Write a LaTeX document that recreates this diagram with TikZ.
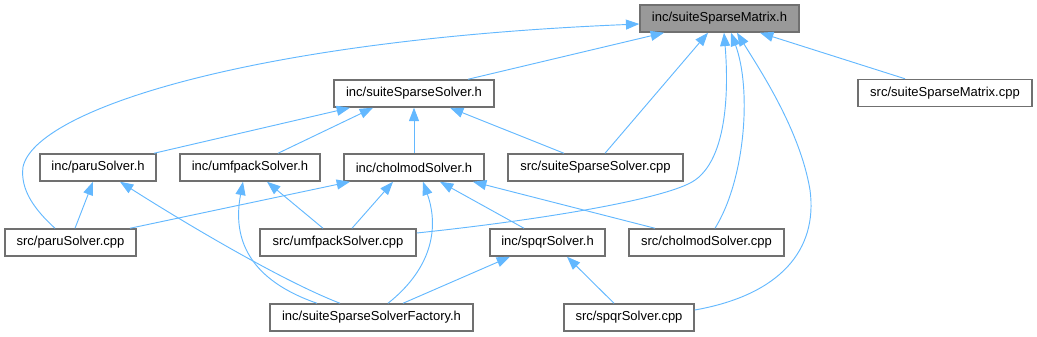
\documentclass[tikz,border=0pt]{standalone}
\usepackage{fontspec}
\setmainfont{Liberation Sans}
\usetikzlibrary{arrows.meta}
\definecolor{edgeblue}{HTML}{63B8FF}
\definecolor{boxgray}{HTML}{707070}
\definecolor{topfill}{HTML}{999999}
\tikzset{
  filebox/.style={draw=boxgray, line width=1.1pt, fill=white, rectangle, inner sep=0pt,
    minimum height=20.25pt, font=\fontsize{9.75pt}{11pt}\selectfont, text=black},
  topbox/.style={filebox, fill=topfill},
  edge/.style={draw=edgeblue, line width=0.7pt, -{Triangle[length=10pt,width=7.5pt]}},
}
\begin{document}
\begin{tikzpicture}[x=0.75pt,y=-0.75pt]
\useasboundingbox (0,0) rectangle (1037,336);
% nodes
\node[topbox, minimum width=119.25pt] (top) at (719.5,18.5) {inc/suiteSparseMatrix.h};
\node[filebox, minimum width=130.5pt] (ssmcpp) at (945,93) {src/suiteSparseMatrix.cpp};
\node[filebox, minimum width=120pt] (sssh) at (414,93.5) {inc/suiteSparseSolver.h};
\node[filebox, minimum width=87pt] (paruh) at (98,167.5) {inc/paruSolver.h};
\node[filebox, minimum width=105pt] (umfh) at (250,167.5) {inc/umfpackSolver.h};
\node[filebox, minimum width=105pt] (cholh) at (414,167.5) {inc/cholmodSolver.h};
\node[filebox, minimum width=131.25pt] (ssscpp) at (595.5,167.5) {src/suiteSparseSolver.cpp};
\node[filebox, minimum width=98.25pt] (parucpp) at (70.5,242.5) {src/paruSolver.cpp};
\node[filebox, minimum width=117pt] (umfcpp) at (338,242.5) {src/umfpackSolver.cpp};
\node[filebox, minimum width=86.25pt] (spqrh) at (547.5,242.5) {inc/spqrSolver.h};
\node[filebox, minimum width=116.25pt] (cholcpp) at (706.5,242.5) {src/cholmodSolver.cpp};
\node[filebox, minimum width=152.25pt] (factory) at (371.5,317.5) {inc/suiteSparseSolverFactory.h};
\node[filebox, minimum width=97.5pt] (spqrcpp) at (629,317.5) {src/spqrSolver.cpp};
% edges to suiteSparseMatrix.h
\draw[edge] ([xshift=40.5pt]sssh.north) -- ([xshift=-41.625pt]top.south);
\draw[edge] ([xshift=-30pt]ssmcpp.north) -- ([xshift=30.375pt]top.south);
\draw[edge] ([xshift=7.125pt]ssscpp.north) -- ([xshift=-8.625pt]top.south);
\draw[edge] ([xshift=-11.625pt]parucpp.north) .. controls (35,210) and (20,190) .. (23,167)
   .. controls (35,110) and (250,40) .. ([yshift=-4.125pt]top.west);
\draw[edge] ([yshift=7.125pt]umfcpp.east) .. controls (540,220) and (660,200) .. (692,182)
   .. controls (730,160) and (728,80) .. ([xshift=3.375pt]top.south);
\draw[edge] ([xshift=6.375pt]cholcpp.north) .. controls (745,180) and (752,90) .. ([xshift=8.625pt]top.south);
\draw[edge] ([yshift=5.625pt]spqrcpp.east) .. controls (780,295) and (818,250) .. (810,190)
   .. controls (800,130) and (760,70) .. ([xshift=13.125pt]top.south);
% edges to suiteSparseSolver.h
\draw[edge] ([xshift=42pt]paruh.north) -- ([xshift=-48pt]sssh.south);
\draw[edge] ([xshift=21pt]umfh.north) -- ([xshift=-30.75pt]sssh.south);
\draw[edge] (cholh.north) -- (sssh.south);
\draw[edge] ([xshift=-23.625pt]ssscpp.north) -- ([xshift=27pt]sssh.south);
% edges to paruSolver.h
\draw[edge] ([xshift=3.375pt]parucpp.north) -- ([xshift=-3.75pt]paruh.south);
\draw[edge] ([xshift=-23.625pt]factory.north) .. controls (280,280) and (180,220) .. ([xshift=16.5pt]paruh.south);
% edges to umfpackSolver.h
\draw[edge] ([xshift=-11.25pt]umfcpp.north) -- ([xshift=12.75pt]umfh.south);
\draw[edge] ([xshift=-40.875pt]factory.north) .. controls (250,280) and (232,240) .. ([xshift=-5.25pt]umfh.south);
% edges to cholmodSolver.h
\draw[edge] ([xshift=44.625pt]parucpp.north) -- ([xshift=-48pt]cholh.south);
\draw[edge] ([xshift=10.5pt]umfcpp.north) -- ([xshift=-15.75pt]cholh.south);
\draw[edge] ([xshift=12.375pt]factory.north) .. controls (430,270) and (440,230) .. ([xshift=6.75pt]cholh.south);
\draw[edge] ([xshift=-17.625pt]spqrh.north) -- ([xshift=19.5pt]cholh.south);
\draw[edge] ([xshift=-38.625pt]cholcpp.north) -- ([xshift=44.25pt]cholh.south);
% edges to spqrSolver.h
\draw[edge] ([xshift=23.625pt]factory.north) -- ([xshift=-28.125pt]spqrh.south);
\draw[edge] ([xshift=-11.25pt]spqrcpp.north) -- ([xshift=14.625pt]spqrh.south);
\end{tikzpicture}
\end{document}
